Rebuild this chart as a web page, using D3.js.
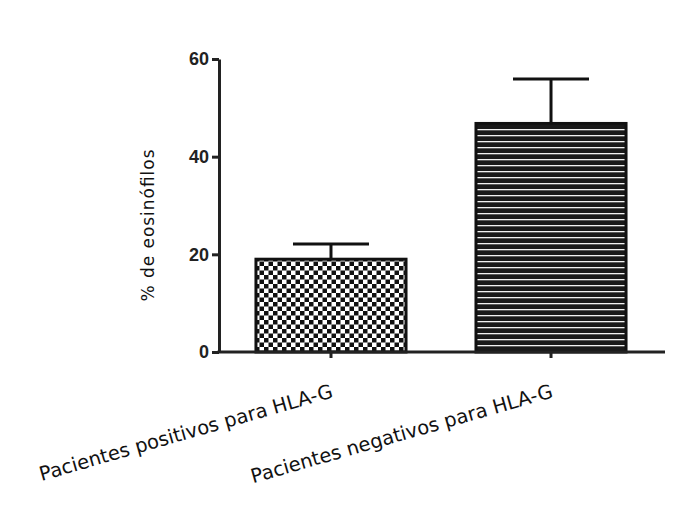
<!DOCTYPE html>
<html>
  <head>
    <meta charset="utf-8">
    <title>% de eosinófilos</title>
    <script src="https://d3js.org/d3.v7.min.js"></script>
    <style>
      body { margin: 0; background: #fff; }
      svg { display: block; }
      .axis path, .axis line { stroke: #222; }
      .yticks text { font-family: "Liberation Sans", Arial, sans-serif; font-weight: bold; font-size: 18px; fill: #222; }
      .label { font-family: "DejaVu Sans", sans-serif; font-size: 19.5px; fill: #111; }
    </style>
  </head>
  <body>
    <svg id="chart" width="700" height="512">
      <defs>
        <pattern id="checker" patternUnits="userSpaceOnUse" width="9" height="9">
          <rect width="9" height="9" fill="#fff"></rect>
          <rect width="4.5" height="4.5" fill="#111"></rect>
          <rect x="4.5" y="4.5" width="4.5" height="4.5" fill="#111"></rect>
        </pattern>
        <pattern id="stripes" patternUnits="userSpaceOnUse" width="10" height="6">
          <rect width="10" height="6" fill="#1a1a1a"></rect>
          <rect y="4" width="10" height="1.3" fill="#f2f2f2"></rect>
        </pattern>
      </defs>
    </svg>
    <script>
      // data
      var groups = ["Pacientes positivos para HLA-G", "Pacientes negativos para HLA-G"];
      var means = [19.0, 46.8];
      var errors = [3.1, 9.1];
      var fills = ["url(#checker)", "url(#stripes)"];
      var yTicks = [0, 20, 40, 60];

      var margin = { top: 59, right: 35, bottom: 160, left: 219 };
      var width = 700 - margin.left - margin.right;
      var height = 512 - margin.top - margin.bottom;

      var chart = d3.select("#chart");
      var g = chart.append("g")
        .attr("transform", "translate(" + margin.left + "," + margin.top + ")");

      var x = d3.scaleBand()
        .domain(groups)
        .range([0, 444])
        .paddingInner(0.318)
        .paddingOuter(0.168);
      var y = d3.scaleLinear()
        .domain([0, 60])
        .range([height, 0]);

      // bars
      g.selectAll(".bar")
          .data(groups)
        .enter().append("rect")
          .attr("class", "bar")
          .attr("x", function(d) { return x(d); })
          .attr("width", x.bandwidth())
          .attr("y", function(d, i) { return y(means[i]); })
          .attr("height", function(d, i) { return y(0) - y(means[i]); })
          .attr("fill", function(d, i) { return fills[i]; })
          .attr("stroke", "#111")
          .attr("stroke-width", 3);

      // error bars (upper only)
      var err = g.selectAll(".err")
          .data(groups)
        .enter().append("g")
          .attr("class", "err")
          .attr("stroke", "#111")
          .attr("stroke-width", 3);
      err.append("line")
        .attr("x1", function(d) { return x(d) + x.bandwidth() / 2; })
        .attr("x2", function(d) { return x(d) + x.bandwidth() / 2; })
        .attr("y1", function(d, i) { return y(means[i]); })
        .attr("y2", function(d, i) { return y(means[i] + errors[i]); });
      err.append("line")
        .attr("x1", function(d) { return x(d) + x.bandwidth() / 2 - 38; })
        .attr("x2", function(d) { return x(d) + x.bandwidth() / 2 + 38; })
        .attr("y1", function(d, i) { return y(means[i] + errors[i]); })
        .attr("y2", function(d, i) { return y(means[i] + errors[i]); });

      // axes
      var yAxis = d3.axisLeft(y)
        .tickValues(yTicks)
        .tickSize(7)
        .tickSizeOuter(0)
        .tickPadding(3);
      g.append("g")
        .attr("class", "axis yticks")
        .call(yAxis)
        .call(function(s) { s.selectAll("path, line").attr("stroke-width", 3); });

      var xAxis = d3.axisBottom(x)
        .tickSize(6)
        .tickSizeOuter(0)
        .tickFormat("");
      g.append("g")
        .attr("class", "axis")
        .attr("transform", "translate(0," + height + ")")
        .call(xAxis)
        .call(function(s) {
          s.select("path").attr("d", "M-1.5,0H" + width).attr("stroke-width", 3);
          s.selectAll("line").attr("stroke-width", 3);
        });

      // rotated category labels
      g.selectAll(".label")
          .data(groups)
        .enter().append("text")
          .attr("class", "label")
          .attr("text-anchor", "end")
          .attr("transform", function(d) {
            return "translate(" + (x(d) + x.bandwidth() / 2 + 3) + "," + (height + 45) + ") rotate(-16)";
          })
          .text(function(d) { return d; });

      // y title
      g.append("text")
        .attr("class", "label")
        .attr("text-anchor", "middle")
        .attr("transform", "translate(-65," + (y(30) + 20) + ") rotate(-90)")
        .style("font-size", "17px")
        .attr("textLength", 152)
        .attr("lengthAdjust", "spacing")
        .text("% de eosinófilos");
    </script>
  </body>
</html>
